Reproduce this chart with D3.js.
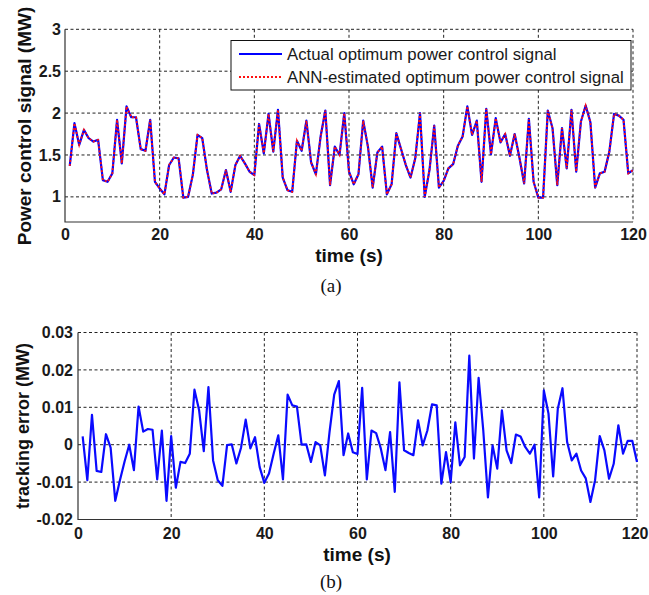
<!DOCTYPE html>
<html>
<head>
<meta charset="utf-8">
<script src="https://cdn.jsdelivr.net/npm/d3@7"></script>
<style>
  html, body { margin: 0; padding: 0; background: #fff; }
  svg { display: block; }
</style>
</head>
<body>
<svg id="chart" width="649" height="595"></svg>
<script>
// sampling grid, one point per second
const timeS = d3.range(1, 121);

const actualSignal = [
  1.37, 1.88, 1.62, 1.80, 1.70, 1.66, 1.68, 1.20, 1.18, 1.28,
  1.92, 1.40, 2.08, 1.95, 1.95, 1.57, 1.55, 1.92, 1.18, 1.10,
  1.03, 1.38, 1.47, 1.46, 0.99, 1.00, 1.26, 1.74, 1.70, 1.32,
  1.04, 1.05, 1.09, 1.32, 1.06, 1.38, 1.49, 1.40, 1.30, 1.26,
  1.87, 1.52, 1.99, 1.54, 2.04, 1.23, 1.08, 1.06, 1.67, 1.55,
  1.91, 1.41, 1.27, 1.72, 2.03, 1.14, 1.60, 1.50, 2.00, 1.30,
  1.15, 1.27, 1.91, 1.60, 1.11, 1.53, 1.60, 1.03, 1.15, 1.76,
  1.57, 1.38, 1.23, 1.46, 2.00, 1.00, 1.32, 1.85, 1.11, 1.19,
  1.34, 1.39, 1.61, 1.72, 2.08, 1.74, 1.91, 1.18, 2.05, 1.51,
  1.94, 1.65, 1.75, 1.49, 1.75, 1.47, 1.16, 1.93, 1.18, 0.99,
  0.99, 2.03, 1.82, 1.14, 1.82, 1.34, 2.04, 1.30, 1.90, 2.09,
  1.89, 1.11, 1.28, 1.30, 1.54, 1.99, 1.97, 1.92, 1.28, 1.32
];

// the estimate sits on top of the actual signal at this scale
const annSignal = [
  1.37, 1.88, 1.62, 1.80, 1.70, 1.66, 1.68, 1.20, 1.18, 1.28,
  1.92, 1.40, 2.08, 1.95, 1.95, 1.57, 1.55, 1.92, 1.18, 1.10,
  1.03, 1.38, 1.47, 1.46, 0.99, 1.00, 1.26, 1.74, 1.70, 1.32,
  1.04, 1.05, 1.09, 1.32, 1.06, 1.38, 1.49, 1.40, 1.30, 1.26,
  1.87, 1.52, 1.99, 1.54, 2.04, 1.23, 1.08, 1.06, 1.67, 1.55,
  1.91, 1.41, 1.27, 1.72, 2.03, 1.14, 1.60, 1.50, 2.00, 1.30,
  1.15, 1.27, 1.91, 1.60, 1.11, 1.53, 1.60, 1.03, 1.15, 1.76,
  1.57, 1.38, 1.23, 1.46, 2.00, 1.00, 1.32, 1.85, 1.11, 1.19,
  1.34, 1.39, 1.61, 1.72, 2.08, 1.74, 1.91, 1.18, 2.05, 1.51,
  1.94, 1.65, 1.75, 1.49, 1.75, 1.47, 1.16, 1.93, 1.18, 0.99,
  0.99, 2.03, 1.82, 1.14, 1.82, 1.34, 2.04, 1.30, 1.90, 2.09,
  1.89, 1.11, 1.28, 1.30, 1.54, 1.99, 1.97, 1.92, 1.28, 1.32
];

const trackingError = [
  0.0022, -0.0095, 0.0080, -0.0070, -0.0073, 0.0028, -0.0008, -0.0150, -0.0095, -0.0045,
  0.0000, -0.0068, 0.0102, 0.0035, 0.0042, 0.0040, -0.0093, 0.0038, -0.0150, 0.0023,
  -0.0115, -0.0046, -0.0049, -0.0024, 0.0147, 0.0092, -0.0017, 0.0154, -0.0042, -0.0095,
  -0.0110, -0.0001, 0.0001, -0.0050, -0.0008, 0.0067, -0.0010, 0.0020, -0.0060, -0.0102,
  -0.0077, -0.0024, 0.0025, -0.0093, 0.0134, 0.0105, 0.0102, 0.0000, 0.0001, -0.0046,
  0.0007, -0.0002, -0.0082, 0.0034, 0.0134, 0.0170, -0.0028, 0.0030, -0.0020, -0.0025,
  0.0152, -0.0093, 0.0038, 0.0031, -0.0010, -0.0068, 0.0034, -0.0126, 0.0167, -0.0015,
  -0.0022, -0.0028, 0.0065, -0.0002, 0.0038, 0.0108, 0.0105, -0.0104, -0.0020, -0.0100,
  0.0060, -0.0055, -0.0033, 0.0238, -0.0037, 0.0179, 0.0038, -0.0141, -0.0002, -0.0064,
  0.0092, -0.0015, -0.0049, 0.0027, 0.0022, -0.0006, -0.0024, 0.0000, -0.0141, 0.0145,
  0.0083, -0.0085, 0.0096, 0.0151, 0.0007, -0.0042, -0.0024, -0.0069, -0.0090, -0.0153,
  -0.0095, 0.0023, -0.0015, -0.0091, -0.0051, 0.0052, -0.0024, 0.0010, 0.0010, -0.0046
];

const timeTicks = [0, 20, 40, 60, 80, 100, 120];
const signalTicks = [1, 1.5, 2, 2.5, 3];
const signalTickLabels = ['1', '1.5', '2', '2.5', '3'];
const errorTicks = [-0.02, -0.01, 0, 0.01, 0.02, 0.03];
const errorTickLabels = ['-0.02', '-0.01', '0', '0.01', '0.02', '0.03'];
const legendLabels = ['Actual optimum power control signal', 'ANN-estimated optimum power control signal'];

const svg = d3.select('#chart');
const tickFont = 'Liberation Sans, Arial, sans-serif';

function drawPanel(opt) {
  const x = d3.scaleLinear().domain([0, 120]).range([opt.left, opt.right]);
  const y = d3.scaleLinear().domain(opt.yDomain).range([opt.bottom, opt.top]);
  const g = svg.append('g');

  // dotted grid
  g.append('g')
    .selectAll('line')
    .data(timeTicks.filter(t => t > 0))
    .enter()
    .append('line')
    .attr('x1', d => x(d)).attr('x2', d => x(d))
    .attr('y1', opt.top).attr('y2', opt.bottom)
    .attr('stroke', '#222').attr('stroke-width', 1)
    .attr('stroke-dasharray', '3,2.5');
  g.append('g')
    .selectAll('line')
    .data(opt.yTicks.filter(v => v > opt.yDomain[0]))
    .enter()
    .append('line')
    .attr('x1', opt.left).attr('x2', opt.right)
    .attr('y1', d => y(d)).attr('y2', d => y(d))
    .attr('stroke', '#222').attr('stroke-width', 1)
    .attr('stroke-dasharray', '3,2.5');

  // tick labels through d3 axes
  const xAxis = g.append('g')
    .attr('transform', `translate(0,${opt.bottom})`)
    .call(d3.axisBottom(x).tickValues(timeTicks).tickSize(0).tickPadding(opt.xPad));
  const yAxis = g.append('g')
    .attr('transform', `translate(${opt.left},0)`)
    .call(d3.axisLeft(y).tickValues(opt.yTicks).tickSize(0).tickPadding(opt.yPad)
      .tickFormat((d, i) => opt.yLabels[i]));
  [xAxis, yAxis].forEach(a => {
    a.select('.domain').remove();
    a.selectAll('text')
      .attr('font-family', tickFont)
      .attr('font-size', 16)
      .attr('font-weight', 'bold')
      .attr('fill', '#1a1a1a');
  });
  // keep the last time label inside the page
  xAxis.selectAll('text').each(function() {
    const box = this.getBBox();
    const right = x(120) + box.width / 2;
    if (d3.select(this.parentNode).datum() === 120 && right > 648) {
      d3.select(this).attr('dx', 648 - right);
    }
  });

  // solid left and bottom axis lines
  g.append('path')
    .attr('d', `M${opt.left},${opt.top}V${opt.bottom}H${opt.right}`)
    .attr('fill', 'none')
    .attr('stroke', '#333')
    .attr('stroke-width', 1.2);

  return {x, y, g};
}

// (a) power control signal
const panelA = drawPanel({
  left: 65, right: 633, top: 29.3, bottom: 222,
  yDomain: [0.7, 3], yTicks: signalTicks, yLabels: signalTickLabels,
  xPad: 7, yPad: 4
});

const lineA = d3.line()
  .x((d, i) => panelA.x(timeS[i]))
  .y(d => panelA.y(d));

panelA.g.append('path')
  .attr('d', lineA(actualSignal))
  .attr('fill', 'none')
  .attr('stroke', '#0000ff')
  .attr('stroke-width', 2.2)
  .attr('stroke-linejoin', 'round');
panelA.g.append('path')
  .attr('d', lineA(annSignal))
  .attr('fill', 'none')
  .attr('stroke', '#ff1010')
  .attr('stroke-width', 1.8)
  .attr('stroke-dasharray', '2,2');

// legend
const legend = svg.append('g');
legend.append('rect')
  .attr('x', 231).attr('y', 40.5)
  .attr('width', 400).attr('height', 49.5)
  .attr('fill', '#fff')
  .attr('stroke', '#111')
  .attr('stroke-width', 1);
const legendRows = legend.selectAll('g.row')
  .data(legendLabels)
  .enter()
  .append('g')
  .attr('class', 'row')
  .attr('transform', (d, i) => `translate(0,${54 + i * 23})`);
legendRows.append('line')
  .attr('x1', 239).attr('x2', 282)
  .attr('stroke', (d, i) => i === 0 ? '#0000ff' : '#ff1010')
  .attr('stroke-width', (d, i) => i === 0 ? 2.2 : 1.8)
  .attr('stroke-dasharray', (d, i) => i === 0 ? null : '2,2');
legendRows.append('text')
  .attr('x', 287)
  .attr('dy', '0.35em')
  .attr('font-family', tickFont)
  .attr('font-size', 16.8)
  .attr('fill', '#1a1a1a')
  .text(d => d);

// (b) tracking error
const panelB = drawPanel({
  left: 78, right: 637, top: 332.5, bottom: 519.5,
  yDomain: [-0.02, 0.03], yTicks: errorTicks, yLabels: errorTickLabels,
  xPad: 8, yPad: 5
});

const lineB = d3.line()
  .x((d, i) => panelB.x(timeS[i]))
  .y(d => panelB.y(d));

panelB.g.append('path')
  .attr('d', lineB(trackingError))
  .attr('fill', 'none')
  .attr('stroke', '#0a0aff')
  .attr('stroke-width', 2.2)
  .attr('stroke-linejoin', 'round');

// axis titles and captions
function addTitle(text, x, y, size, rotate) {
  svg.append('text')
    .attr('transform', `translate(${x},${y})` + (rotate ? ' rotate(-90)' : ''))
    .attr('text-anchor', 'middle')
    .attr('font-family', tickFont)
    .attr('font-size', size)
    .attr('font-weight', 'bold')
    .attr('fill', '#111')
    .text(text);
}
addTitle('Power control signal (MW)', 31, 126, 19, true);
addTitle('time (s)', 349, 262, 19, false);
addTitle('tracking error (MW)', 29, 426, 18, true);
addTitle('time (s)', 357, 561, 19, false);

svg.selectAll('text.caption')
  .data(['(a)', '(b)'])
  .enter()
  .append('text')
  .attr('class', 'caption')
  .attr('x', 331)
  .attr('y', (d, i) => i === 0 ? 292 : 588)
  .attr('text-anchor', 'middle')
  .attr('font-family', 'Liberation Serif, Times New Roman, serif')
  .attr('font-size', 19)
  .attr('fill', '#111')
  .text(d => d);
</script>
</body>
</html>
